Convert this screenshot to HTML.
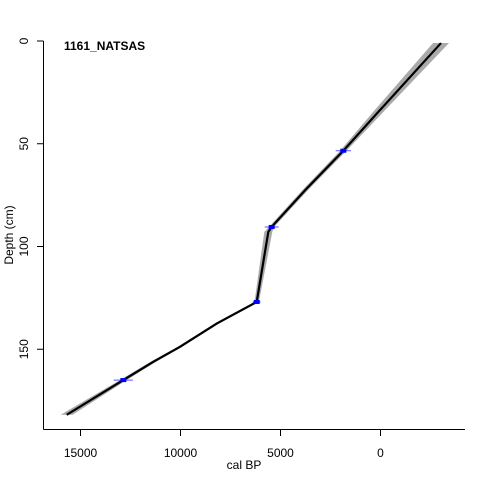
<!DOCTYPE html>
<html><head><meta charset="utf-8"><style>
body{margin:0;background:#fff}
text{font-family:"Liberation Sans",sans-serif;font-size:12px}
</style></head><body>
<svg id="chart" width="480" height="480" xmlns="http://www.w3.org/2000/svg">
<g id="band"></g>
<g id="line"></g>
<g id="dates"></g>
<g id="axes"></g>
<text x="64" y="50" font-weight="bold">1161_NATSAS</text>
<text x="244" y="469" text-anchor="middle">cal BP</text>
<text transform="translate(13,235) rotate(-90)" text-anchor="middle">Depth (cm)</text>
</svg>
<script>
const ages=[-3025,25,1860,3690,5440,5610,6190,8190,10025,11360,12860,15690];
const depths=[1,33.6,53.4,71.8,90.4,92.9,127,137.5,148.8,156.1,165,181.9];
const bandHalf=[400,260,160,140,130,200,110,110,110,140,170,300];
const dateAges=[1860,5440,6190,12860];
const dateDepths=[53.4,90.5,127,165];
const dateErr=[380,350,200,480];
const xTicks=[15000,10000,5000,0];
const yTicks=[0,50,100,150];
const NS="http://www.w3.org/2000/svg";
const X=v=>380.5-v*0.02, Y=d=>41+d*2.055;
function mk(t,p,a){const e=document.createElementNS(NS,t);for(const k in a)e.setAttribute(k,a[k]);p.appendChild(e);return e;}
let left=ages.map((a,i)=>X(a+bandHalf[i])+","+Y(depths[i]));
let right=ages.map((a,i)=>X(a-bandHalf[i])+","+Y(depths[i])).reverse();
const bp=mk('polygon',document.getElementById('band'),{points:left.concat(right).join(' '),fill:'#aaaaaa'});


const ln=mk('polyline',document.getElementById('line'),{points:ages.map((a,i)=>X(a)+","+Y(depths[i])).join(' '),fill:'none',stroke:'#000','stroke-width':2.2});


const dg=document.getElementById('dates');
dateAges.forEach((a,i)=>{
 const g=mk('g',dg,{});
 
 
 mk('line',g,{x1:X(a+dateErr[i]),x2:X(a-dateErr[i]),y1:Y(dateDepths[i]),y2:Y(dateDepths[i]),stroke:'#5555ff','stroke-width':1});
 mk('rect',g,{x:X(a)-3,y:Y(dateDepths[i])-2,width:6,height:4,fill:'#0000ff'});
});
const ax=document.getElementById('axes');
mk('line',ax,{x1:43.5,x2:43.5,y1:41,y2:429.5,stroke:'#000'});
mk('line',ax,{x1:43.5,x2:465,y1:429.5,y2:429.5,stroke:'#000'});
xTicks.forEach(v=>{
 mk('line',ax,{x1:X(v),x2:X(v),y1:429.5,y2:436,stroke:'#000'});
 const t=mk('text',ax,{x:X(v),y:457,'text-anchor':'middle'});t.textContent=v;
 
 
});
yTicks.forEach(v=>{
 mk('line',ax,{x1:37,x2:43.5,y1:Y(v),y2:Y(v),stroke:'#000'});
 const t=mk('text',ax,{transform:`translate(28,${Y(v)}) rotate(-90)`,'text-anchor':'middle'});t.textContent=v;
 
 
});
</script>
</body></html>
